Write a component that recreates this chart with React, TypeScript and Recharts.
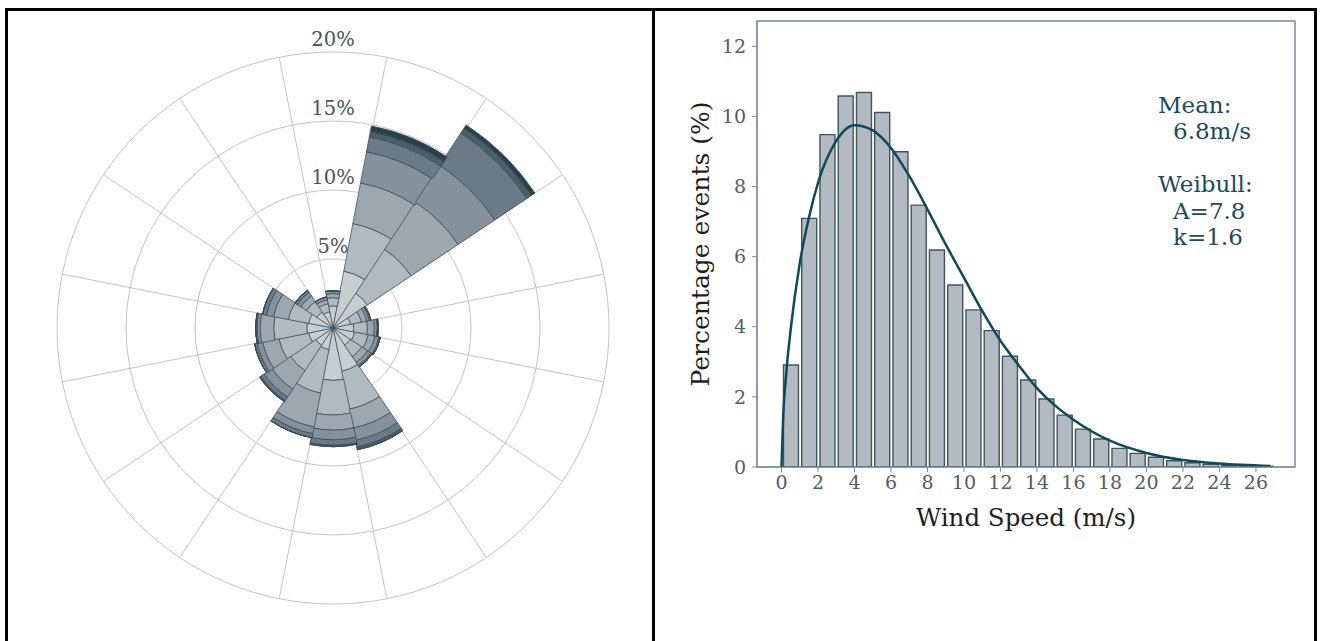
import React from 'react'
import {
  RadialBarChart,
  RadialBar,
  PolarGrid,
  PolarAngleAxis,
  PolarRadiusAxis,
  ComposedChart,
  Bar,
  Line,
  XAxis,
  YAxis,
  ReferenceArea,
  Label,
} from 'recharts'

const FONT = '"DejaVu Serif", serif'

// ---- wind rose: share of time (%) per direction, split by speed bin ----
const directions = ['N', 'NNE', 'NE', 'ENE', 'E', 'ESE', 'SE', 'SSE', 'S', 'SSW', 'SW', 'WSW', 'W', 'WNW', 'NW', 'NNW']
const bin0 = [1.6, 4.2, 3.0, 1.3, 1.5, 1.6, 1.5, 3.2, 3.8, 1.6, 1.5, 1.8, 1.9, 1.8, 1.4, 1.2]
const bin1 = [0.6, 3.5, 3.8, 0.8, 1.0, 1.0, 1.0, 2.8, 2.5, 3.2, 2.2, 2.2, 2.4, 1.5, 0.9, 0.6]
const bin2 = [0.3, 3.0, 4.1, 0.4, 0.5, 0.5, 0.5, 1.4, 1.1, 2.5, 1.6, 1.2, 1.0, 1.1, 0.5, 0.3]
const bin3 = [0.2, 2.3, 3.2, 0.2, 0.2, 0.3, 0.3, 0.9, 0.7, 0.5, 0.7, 0.4, 0.2, 0.5, 0.3, 0.2]
const bin4 = [0, 1.1, 2.8, 0.1, 0.1, 0.1, 0.1, 0.5, 0.4, 0.3, 0.3, 0.2, 0.1, 0.3, 0.2, 0]
const bin5 = [0, 0.4, 0.4, 0, 0, 0, 0, 0.2, 0.1, 0, 0.1, 0, 0, 0, 0, 0]
const bin6 = [0, 0.4, 0.3, 0, 0, 0, 0, 0, 0, 0, 0, 0, 0, 0, 0, 0]
const binColors = ['#c8cdd2', '#b2bac1', '#9da7b0', '#85929d', '#6a7a87', '#4b5e6a', '#2a404c']
const roseTicks = [5, 10, 15, 20]

// ---- histogram ----
const speedCenters = [0.5, 1.5, 2.5, 3.5, 4.5, 5.5, 6.5, 7.5, 8.5, 9.5, 10.5, 11.5, 12.5, 13.5, 14.5, 15.5, 16.5, 17.5, 18.5, 19.5, 20.5, 21.5, 22.5, 23.5, 24.5, 25.5, 26.5]
const eventPct = [2.91, 7.09, 9.48, 10.58, 10.68, 10.11, 8.99, 7.47, 6.19, 5.19, 4.48, 3.89, 3.16, 2.48, 1.94, 1.48, 1.08, 0.8, 0.53, 0.39, 0.28, 0.18, 0.12, 0.08, 0.05, 0.03, 0.02]
const fitSpeed = [0, 0.1, 0.25, 0.5, 1, 1.5, 2, 3, 4, 5, 6, 7, 8, 9, 10, 11, 12, 13, 14, 15, 16, 18, 20, 22, 24, 26.8]
const fitPct = [0, 1.5, 2.6, 3.9, 5.8, 7.1, 8.1, 9.3, 9.75, 9.6, 9.1, 8.3, 7.35, 6.35, 5.4, 4.45, 3.6, 2.9, 2.25, 1.75, 1.35, 0.75, 0.4, 0.2, 0.1, 0.03]
const xTicks = [0, 2, 4, 6, 8, 10, 12, 14, 16, 18, 20, 22, 24, 26]
const yTicks = [0, 2, 4, 6, 8, 10, 12]
const xDomain = [-1.34, 28.14]

const roseData = directions.map((dir, i) => ({
  dir,
  b0: bin0[i], b1: bin1[i], b2: bin2[i], b3: bin3[i], b4: bin4[i], b5: bin5[i], b6: bin6[i],
}))
const histData = speedCenters.map((speed, i) => ({ speed, pct: eventPct[i] }))
const fitData = fitSpeed.map((speed, i) => ({ speed, fit: fitPct[i] }))

// sector boundaries, N sector centred on top
const gridAngles = directions.map((_, i) => 101.25 - 22.5 * i)

const RoseTick = (props: any) => {
  const { x, y, payload } = props
  return (
    <text x={x} y={y - 6} textAnchor="middle" fontFamily={FONT} fontSize={19.5} fill="#44565f">
      {payload.value}%
    </text>
  )
}

const axisColor = '#7d8c94'
const tickStyle = { fill: '#4f5e67', fontSize: 19, fontFamily: FONT }

function WindRose() {
  return (
    <RadialBarChart
      width={660}
      height={641}
      cx={333}
      cy={328}
      innerRadius={0}
      outerRadius={276}
      startAngle={78.75}
      endAngle={-281.25}
      layout="centric"
      data={roseData}
      barCategoryGap={0}
      margin={{ top: 0, right: 0, bottom: 0, left: 0 }}
    >
      <PolarGrid gridType="circle" polarAngles={gridAngles} stroke="#c4c4c4" strokeWidth={1} />
      <PolarAngleAxis type="category" dataKey="dir" tick={false} axisLine={false} tickLine={false} />
      <PolarRadiusAxis
        type="number"
        domain={[0, 20]}
        ticks={roseTicks}
        angle={90}
        axisLine={false}
        tickLine={false}
        tick={<RoseTick />}
      />
      {binColors.map((c, i) => (
        <RadialBar
          key={i}
          dataKey={'b' + i}
          stackId="speed"
          fill={c}
          stroke="#34464f"
          strokeWidth={0.7}
          isAnimationActive={false}
        />
      ))}
    </RadialBarChart>
  )
}

function Histogram() {
  return (
    <ComposedChart
      width={660}
      height={641}
      data={histData}
      margin={{ top: 21, right: 25, bottom: 114, left: 37 }}
    >
      <XAxis
        type="number"
        dataKey="speed"
        domain={xDomain}
        allowDataOverflow
        ticks={xTicks}
        interval={0}
        height={60}
        tickSize={5}
        tickMargin={4}
        stroke={axisColor}
        tick={tickStyle}
      >
        <Label
          content={({ viewBox }: any) => (
            <text
              x={viewBox.x + viewBox.width / 2}
              y={viewBox.y + 59}
              textAnchor="middle"
              fontFamily={FONT}
              fontSize={24.5}
              fill="#1e1e1e"
            >
              Wind Speed (m/s)
            </text>
          )}
        />
      </XAxis>
      <XAxis xAxisId="fit" type="number" dataKey="speed" domain={xDomain} allowDataOverflow hide />
      <YAxis
        type="number"
        domain={[0, 12.72]}
        allowDataOverflow
        ticks={yTicks}
        interval={0}
        width={60}
        tickSize={5}
        tickMargin={6}
        stroke={axisColor}
        tick={tickStyle}
      >
        <Label
          content={({ viewBox }: any) => {
            const cx = viewBox.x + 12
            const cy = viewBox.y + viewBox.height / 2
            return (
              <text
                x={cx}
                y={cy}
                transform={`rotate(-90 ${cx} ${cy})`}
                textAnchor="middle"
                fontFamily={FONT}
                fontSize={25}
                fill="#1e1e1e"
              >
                Percentage events (%)
              </text>
            )
          }}
        />
      </YAxis>
      <ReferenceArea x1={xDomain[0]} x2={xDomain[1]} y1={0} y2={12.72} fill="none" stroke={axisColor} strokeWidth={1.5} />
      <Bar dataKey="pct" barSize={15} fill="#b3bac1" stroke="#42545e" strokeWidth={1.4} isAnimationActive={false} />
      <Line
        xAxisId="fit"
        data={fitData}
        dataKey="fit"
        type="monotone"
        stroke="#0f4a5a"
        strokeWidth={2.5}
        dot={false}
        activeDot={false}
        isAnimationActive={false}
      />
    </ComposedChart>
  )
}

const noteStyle = { fontFamily: FONT, fontSize: 23, fill: '#1c4b5a' }

export default function App() {
  return (
    <div style={{ position: 'absolute', left: 0, top: 0, width: 1320, height: 641, background: '#fff', overflow: 'hidden' }}>
      <div style={{ position: 'absolute', left: 0, top: 0 }}>
        <WindRose />
      </div>
      <div style={{ position: 'absolute', left: 660, top: 0 }}>
        <Histogram />
      </div>
      <svg style={{ position: 'absolute', left: 0, top: 0 }} width={1320} height={641}>
        <text x={1158} y={113} {...noteStyle}>Mean:</text>
        <text x={1173} y={139} {...noteStyle}>6.8m/s</text>
        <text x={1158} y={192} {...noteStyle}>Weibull:</text>
        <text x={1173} y={219} {...noteStyle}>A=7.8</text>
        <text x={1173} y={245} {...noteStyle}>k=1.6</text>
      </svg>
      {/* table frame */}
      <div style={{ position: 'absolute', left: 5, top: 8, width: 1312, height: 3, background: '#000' }} />
      <div style={{ position: 'absolute', left: 5, top: 8, width: 3, height: 640, background: '#000' }} />
      <div style={{ position: 'absolute', left: 652, top: 8, width: 3, height: 640, background: '#000' }} />
      <div style={{ position: 'absolute', left: 1314, top: 8, width: 3, height: 640, background: '#000' }} />
    </div>
  )
}
